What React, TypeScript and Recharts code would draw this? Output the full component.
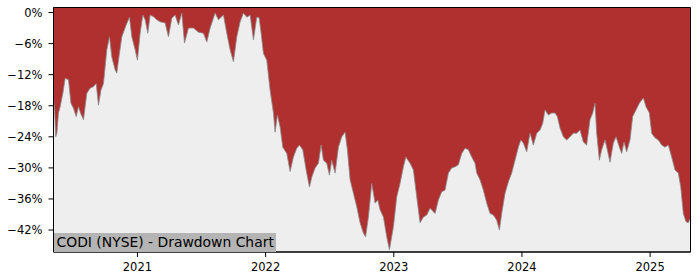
import React from "react";
import { AreaChart, Area, XAxis, YAxis, CartesianGrid, ReferenceArea } from "recharts";

// time in decimal years
const years: number[] = [
  2020.345, 2020.354, 2020.362, 2020.371, 2020.384, 2020.397, 2020.418, 2020.436, 2020.462, 2020.481,
  2020.501, 2020.522, 2020.540, 2020.557, 2020.579, 2020.605, 2020.631, 2020.657, 2020.678, 2020.696,
  2020.715, 2020.735, 2020.761, 2020.782, 2020.800, 2020.826, 2020.839, 2020.852, 2020.878, 2020.912,
  2020.938, 2020.956, 2020.982, 2021.000, 2021.021, 2021.042, 2021.060, 2021.081, 2021.099, 2021.125,
  2021.151, 2021.177, 2021.216, 2021.242, 2021.268, 2021.294, 2021.320, 2021.346, 2021.367, 2021.398,
  2021.437, 2021.476, 2021.515, 2021.541, 2021.567, 2021.606, 2021.632, 2021.671, 2021.697, 2021.723,
  2021.749, 2021.775, 2021.801, 2021.827, 2021.853, 2021.879, 2021.905, 2021.931, 2021.949, 2021.965,
  2021.983, 2022.009, 2022.035, 2022.061, 2022.074, 2022.092, 2022.113, 2022.134, 2022.165, 2022.191,
  2022.217, 2022.243, 2022.264, 2022.290, 2022.316, 2022.342, 2022.360, 2022.386, 2022.412, 2022.433,
  2022.451, 2022.477, 2022.498, 2022.516, 2022.542, 2022.568, 2022.594, 2022.620, 2022.638, 2022.659,
  2022.685, 2022.711, 2022.737, 2022.763, 2022.780, 2022.802, 2022.828, 2022.854, 2022.875, 2022.893,
  2022.919, 2022.945, 2022.966, 2022.997, 2023.023, 2023.049, 2023.075, 2023.094, 2023.127, 2023.153,
  2023.179, 2023.205, 2023.231, 2023.257, 2023.283, 2023.322, 2023.348, 2023.374, 2023.400, 2023.426,
  2023.452, 2023.478, 2023.504, 2023.530, 2023.556, 2023.582, 2023.608, 2023.634, 2023.647, 2023.673,
  2023.699, 2023.725, 2023.751, 2023.777, 2023.803, 2023.824, 2023.842, 2023.868, 2023.894, 2023.920,
  2023.946, 2023.972, 2023.991, 2024.011, 2024.037, 2024.063, 2024.089, 2024.115, 2024.141, 2024.162,
  2024.180, 2024.206, 2024.232, 2024.258, 2024.276, 2024.297, 2024.323, 2024.349, 2024.375, 2024.401,
  2024.427, 2024.453, 2024.479, 2024.505, 2024.531, 2024.552, 2024.570, 2024.583, 2024.604, 2024.622,
  2024.648, 2024.666, 2024.687, 2024.713, 2024.734, 2024.760, 2024.778, 2024.796, 2024.817, 2024.843,
  2024.864, 2024.890, 2024.916, 2024.947, 2024.968, 2024.994, 2025.012, 2025.038, 2025.064, 2025.090,
  2025.116, 2025.142, 2025.168, 2025.194, 2025.220, 2025.239, 2025.259, 2025.280, 2025.298, 2025.311,
];

// drawdown in percent
const drawdown: number[] = [
  -16.5, -19, -24, -23.3, -19.4, -18.2, -15.6, -12.7, -13, -17.5,
  -18.5, -20.1, -18.2, -19.5, -20.7, -15.6, -14.6, -14.3, -13.7, -17.9,
  -15, -13.7, -7.2, -4.7, -8.6, -11.1, -11.7, -9.2, -4.7, -2.4,
  -0.9, -4.7, -7.2, -9.2, -4.0, -0.5, -1.4, -4.0, -0.5, -0.8,
  -1.4, -1.8, -2.0, -4.7, -1.1, -0.5, -2.4, -0.1, -5.9, -3.0,
  -3.0, -3.8, -4.0, -5.7, -3.0, -0.1, -1.4, -0.5, -4.0, -7.2,
  -9.5, -4.7, -1.8, -0.1, -0.9, -0.5, -5.3, -0.9, -1.0, -4.0,
  -7.9, -9.2, -15, -19.4, -23.1, -19.8, -22.1, -26, -27.2, -30.7,
  -27.9, -26.2, -25.6, -26.5, -30.4, -33.7, -31.8, -30, -29.1, -25.6,
  -28.5, -29.1, -31.4, -28.5, -31, -26, -24, -23.1, -26.5, -32.3,
  -34.9, -37.5, -40.6, -42.6, -43.3, -39.5, -33, -36.8, -36.2, -38.1,
  -39.5, -43.3, -45.8, -41.4, -35.6, -33, -29.8, -27.9, -29.1, -30.4,
  -35.6, -40.6, -39.5, -39.1, -37.8, -38.8, -36.2, -34.6, -34.3, -31,
  -30, -29.8, -29.4, -27.2, -26.2, -26.5, -27.9, -29.1, -31, -32.3,
  -34.3, -36.8, -38.8, -39.1, -40.1, -42, -38.8, -34.9, -32.7, -31,
  -28.5, -26, -24.6, -25.2, -26.9, -23.3, -25.6, -23.3, -22.7, -21.4,
  -18.8, -19.8, -19.4, -19.4, -20.1, -22.3, -24, -24.6, -24, -23.3,
  -23.3, -22.7, -25, -25.6, -20.7, -19.4, -17.5, -23.3, -28.5, -26.5,
  -24.6, -26.5, -28.9, -25.2, -24, -26, -27.2, -25, -26.9, -24.6,
  -20.1, -18.8, -17.5, -16.5, -18.2, -19.4, -23.3, -24.2, -24.6, -25.6,
  -26, -25.6, -27.9, -30.4, -31, -33.7, -38.8, -40.4, -40.6, -39.8,
];

const xTicks: number[] = [2021, 2022, 2023, 2024, 2025];
const yTicks: number[] = [0, -6, -12, -18, -24, -30, -36, -42];
const title = "CODI (NYSE) - Drawdown Chart";

const X_MIN = 2020.345;
const X_MAX = 2025.315;
const Y_MIN = -46.24;
const Y_MAX = 0.97;

const data = years.map((t, i) => ({ t, dd: drawdown[i] }));

const fmtY = (v: number) => (v === 0 ? "0%" : "\u2212" + Math.abs(v) + "%");

export default function App() {
  const font = "'DejaVu Sans', sans-serif";
  return (
    <div style={{ position: "absolute", left: 0, top: 0, width: 700, height: 280, background: "#fff", fontFamily: font }}>
      <AreaChart
        width={700}
        height={280}
        data={data}
        margin={{ top: 7.5, right: 9.5, bottom: 0, left: 0 }}
      >
        <CartesianGrid fill="#eeeeee" horizontal={false} vertical={false} />
        <XAxis
          dataKey="t"
          type="number"
          domain={[X_MIN, X_MAX]}
          ticks={xTicks}
          allowDataOverflow
          height={28}
          tickSize={5}
          tickMargin={6}
          interval={0}
          tick={{ fill: "#000", fontSize: 11.5, fontFamily: font }}
          stroke="#000"
          axisLine={{ stroke: "#000" }}
          tickLine={{ stroke: "#000" }}
          tickFormatter={(v: number) => String(v)}
        />
        <YAxis
          type="number"
          domain={[Y_MIN, Y_MAX]}
          ticks={yTicks}
          allowDataOverflow
          width={53.5}
          tickSize={5}
          tickMargin={6}
          interval={0}
          tick={{ fill: "#000", fontSize: 11.5, fontFamily: font }}
          axisLine={{ stroke: "#000" }}
          tickLine={{ stroke: "#000" }}
          tickFormatter={fmtY}
        />
        <Area
          type="linear"
          dataKey="dd"
          baseValue="dataMax"
          fill="#b03030"
          fillOpacity={1}
          stroke="#8a8a8a"
          strokeWidth={0.8}
          isAnimationActive={false}
          dot={false}
          activeDot={false}
        />
        <ReferenceArea
          x1={X_MIN}
          x2={X_MAX}
          y1={Y_MIN}
          y2={Y_MAX}
          fill="none"
          fillOpacity={0}
          stroke="#000"
          strokeWidth={1}
          ifOverflow="visible"
        />
      </AreaChart>
      <div
        style={{
          position: "absolute",
          left: 53.5,
          top: 233,
          width: 222,
          height: 19,
          background: "#b4b4b4",
          color: "#000",
          fontSize: 13.9,
          lineHeight: "19px",
          paddingLeft: 3,
          boxSizing: "border-box",
          whiteSpace: "nowrap",
          fontFamily: font,
        }}
      >
        {title}
      </div>
    </div>
  );
}
